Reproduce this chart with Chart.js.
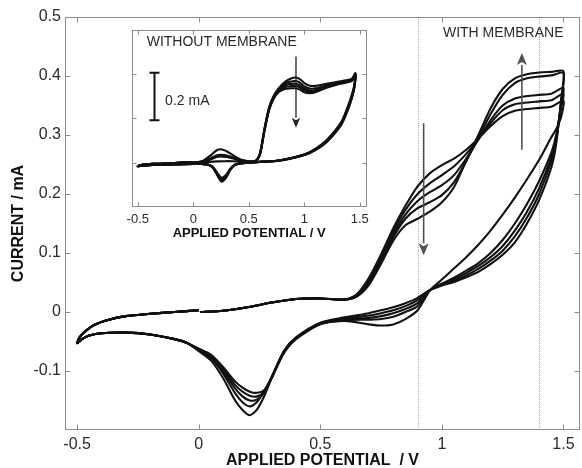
<!DOCTYPE html>
<html>
<head>
<meta charset="utf-8">
<title>Cyclic voltammograms with / without membrane</title>
<script src="https://cdn.jsdelivr.net/npm/chart.js@4.4.1/dist/chart.umd.min.js"></script>
<style>
    html, body { margin: 0; padding: 0; background: #fff; }
    #wrap { position: relative; width: 582px; height: 468px; }
    #main { position: absolute; left: 0; top: 0; }
    #inset { position: absolute; left: 120px; top: 28px; }
</style>
</head>
<body>
<div id="wrap">
    <canvas id="main" width="582" height="468"></canvas>
    <canvas id="inset" width="260" height="214"></canvas>
</div>
<script>
// ---- main panel (with membrane), potential in V, current in mA ----
const xTicks = [-0.5, 0, 0.5, 1, 1.5];
const yTicks = [-0.1, 0, 0.1, 0.2, 0.3, 0.4, 0.5];

// start of each forward sweep, same for all cycles
const fwdLowV = [0.005, 0.1, 0.2, 0.3, 0.4, 0.5, 0.6];
const fwdLowI = [0.0, 0.002, 0.008, 0.016, 0.022, 0.023, 0.021];

// oxidation wave, cycle 1..5
const riseV = [0.65, 0.7, 0.75, 0.8, 0.85, 0.9, 0.95, 1.0, 1.05, 1.1, 1.15, 1.2, 1.25, 1.3, 1.35, 1.4, 1.45, 1.5];
const riseC1 = [0.03, 0.058, 0.098, 0.142, 0.18, 0.213, 0.235, 0.249, 0.26, 0.275, 0.294, 0.315, 0.332, 0.341, 0.344, 0.346, 0.348, 0.358];
const riseC2 = [0.029, 0.055, 0.094, 0.137, 0.173, 0.2, 0.218, 0.232, 0.247, 0.268, 0.293, 0.32, 0.342, 0.352, 0.355, 0.357, 0.359, 0.37];
const riseC3 = [0.028, 0.052, 0.09, 0.132, 0.165, 0.188, 0.203, 0.215, 0.232, 0.26, 0.292, 0.325, 0.35, 0.362, 0.366, 0.368, 0.37, 0.38];
const riseC4 = [0.027, 0.049, 0.086, 0.127, 0.158, 0.176, 0.186, 0.198, 0.22, 0.256, 0.295, 0.335, 0.368, 0.388, 0.396, 0.399, 0.401, 0.405];
const riseC5 = [0.026, 0.046, 0.082, 0.121, 0.147, 0.158, 0.17, 0.186, 0.212, 0.256, 0.3, 0.345, 0.378, 0.396, 0.403, 0.406, 0.407, 0.408];

// reverse sweep down to 0 V, cycle 1..5
const revV = [1.49, 1.47, 1.45, 1.4, 1.35, 1.3, 1.25, 1.2, 1.15, 1.1, 1.05, 1.0, 0.95, 0.9, 0.85, 0.8, 0.75, 0.7, 0.6, 0.5, 0.4, 0.35, 0.3, 0.27, 0.24, 0.21, 0.18, 0.15, 0.1, 0.05, 0.0];
const revC1 = [0.33, 0.31, 0.296, 0.258, 0.225, 0.194, 0.165, 0.138, 0.114, 0.093, 0.074, 0.055, 0.036, 0.003, -0.012, -0.021, -0.023, -0.021, -0.015, -0.021, -0.046, -0.07, -0.112, -0.142, -0.165, -0.175, -0.166, -0.15, -0.112, -0.082, -0.066];
const revC2 = [0.345, 0.3, 0.27, 0.222, 0.183, 0.15, 0.122, 0.1, 0.083, 0.07, 0.058, 0.048, 0.037, 0.01, 0.0, -0.008, -0.012, -0.013, -0.014, -0.02, -0.045, -0.069, -0.112, -0.134, -0.152, -0.16, -0.153, -0.138, -0.104, -0.078, -0.065];
const revC3 = [0.35, 0.295, 0.262, 0.21, 0.17, 0.138, 0.112, 0.093, 0.078, 0.066, 0.055, 0.047, 0.037, 0.015, 0.005, -0.002, -0.007, -0.01, -0.013, -0.02, -0.044, -0.068, -0.111, -0.136, -0.148, -0.15, -0.143, -0.13, -0.1, -0.076, -0.064];
const revC4 = [0.355, 0.29, 0.255, 0.2, 0.16, 0.128, 0.104, 0.087, 0.073, 0.062, 0.053, 0.046, 0.037, 0.02, 0.01, 0.003, -0.002, -0.006, -0.011, -0.019, -0.044, -0.067, -0.11, -0.135, -0.143, -0.142, -0.135, -0.124, -0.096, -0.074, -0.063];
const revC5 = [0.36, 0.285, 0.245, 0.19, 0.15, 0.118, 0.097, 0.081, 0.068, 0.059, 0.051, 0.045, 0.037, 0.024, 0.015, 0.008, 0.003, -0.002, -0.009, -0.018, -0.043, -0.066, -0.11, -0.132, -0.137, -0.135, -0.128, -0.118, -0.093, -0.072, -0.062];

// negative end and the way back to 0 V, same for all cycles
const tailV = [-0.05, -0.1, -0.2, -0.3, -0.4, -0.45, -0.48, -0.5];
const tailI = [-0.052, -0.046, -0.038, -0.035, -0.036, -0.04, -0.046, -0.053];
const retV = [-0.49, -0.47, -0.43, -0.37, -0.3, -0.2, -0.1, 0.0];
const retI = [-0.043, -0.034, -0.022, -0.013, -0.007, -0.003, 0.0, 0.003];

// ---- inset (without membrane) ----
const insetXTicks = [-0.5, 0, 0.5, 1, 1.5];
const insetYTicks = [0, 0.2, 0.4];

const insFwdV = [0.005, 0.08, 0.15, 0.22, 0.28, 0.35, 0.42, 0.5, 0.56, 0.6, 0.64, 0.68, 0.72, 0.77, 0.83, 0.88, 0.92, 0.96, 1.0, 1.05, 1.1, 1.2, 1.3, 1.38, 1.43, 1.46];
const insFwdC1 = [0, 0.001, 0.003, 0.005, 0.006, 0.006, 0.005, 0.004, 0.006, 0.04, 0.15, 0.245, 0.298, 0.337, 0.366, 0.38, 0.385, 0.378, 0.36, 0.348, 0.347, 0.357, 0.366, 0.372, 0.38, 0.405];
const insFwdC2 = [0, 0.006, 0.03, 0.058, 0.056, 0.036, 0.015, 0.006, 0.007, 0.039, 0.148, 0.242, 0.295, 0.334, 0.358, 0.367, 0.369, 0.362, 0.345, 0.335, 0.336, 0.35, 0.362, 0.37, 0.378, 0.4];
const insFwdC3 = [0, 0.004, 0.018, 0.034, 0.034, 0.025, 0.012, 0.005, 0.006, 0.037, 0.145, 0.238, 0.291, 0.329, 0.35, 0.356, 0.357, 0.35, 0.335, 0.326, 0.328, 0.345, 0.358, 0.367, 0.375, 0.398];
const insFwdC4 = [0, 0.003, 0.015, 0.029, 0.029, 0.022, 0.011, 0.005, 0.006, 0.036, 0.142, 0.235, 0.288, 0.324, 0.342, 0.346, 0.347, 0.34, 0.327, 0.32, 0.323, 0.342, 0.356, 0.365, 0.373, 0.395];
const insFwdC5 = [0, 0.003, 0.013, 0.026, 0.026, 0.02, 0.01, 0.005, 0.006, 0.035, 0.14, 0.232, 0.285, 0.319, 0.334, 0.336, 0.336, 0.33, 0.318, 0.314, 0.318, 0.338, 0.353, 0.362, 0.37, 0.392];

const insRevV = [1.45, 1.43, 1.4, 1.34, 1.25, 1.16, 1.04, 0.9, 0.75, 0.6, 0.5, 0.42, 0.37, 0.33, 0.3, 0.27, 0.25, 0.22, 0.18, 0.14, 0.08, 0.0];
const insRevC1 = [0.35, 0.31, 0.265, 0.19, 0.128, 0.083, 0.045, 0.023, 0.008, 0.003, 0.0, -0.004, -0.013, -0.036, -0.065, -0.083, -0.085, -0.062, -0.026, -0.011, -0.007, -0.007];
const insRevC2 = [0.345, 0.305, 0.26, 0.186, 0.125, 0.081, 0.044, 0.022, 0.008, 0.003, 0.0, -0.004, -0.012, -0.034, -0.062, -0.078, -0.08, -0.058, -0.025, -0.011, -0.007, -0.007];
const insRevC3 = [0.342, 0.3, 0.256, 0.183, 0.122, 0.079, 0.043, 0.022, 0.008, 0.003, 0.0, -0.004, -0.012, -0.033, -0.059, -0.074, -0.076, -0.056, -0.024, -0.011, -0.007, -0.007];
const insRevC4 = [0.34, 0.297, 0.252, 0.18, 0.12, 0.077, 0.042, 0.021, 0.007, 0.003, 0.0, -0.004, -0.011, -0.031, -0.056, -0.07, -0.072, -0.053, -0.023, -0.01, -0.007, -0.007];
const insRevC5 = [0.337, 0.294, 0.248, 0.177, 0.118, 0.075, 0.041, 0.021, 0.007, 0.003, 0.0, -0.004, -0.011, -0.03, -0.053, -0.066, -0.068, -0.05, -0.022, -0.01, -0.007, -0.007];

const insTailV = [-0.2, -0.4, -0.48, -0.5];
const insTailI = [-0.009, -0.012, -0.015, -0.017];
const insRetV = [-0.46, -0.35, -0.2, 0.0];
const insRetI = [-0.01, -0.006, -0.003, 0.002];

const FONT = "'Liberation Sans', Arial, sans-serif";

function zip(xs, ys) {
    return xs.map((x, i) => ({ x, y: ys[i] }));
}

// glue the sweep segments of one cycle together
function sweep(segments) {
    return segments.flatMap(([xs, ys]) => zip(xs, ys));
}

function lineDataset(data) {
    return {
        data,
        showLine: true,
        borderColor: '#111',
        borderWidth: 2.1,
        pointRadius: 0,
        tension: 0.25,
        fill: false
    };
}

// box around the plot with inward ticks on all four sides
const framePlugin = {
    id: 'frame',
    afterDatasetsDraw(chart, args, opts) {
        const { ctx, chartArea: a, scales: { x, y } } = chart;
        const l = Math.round(a.left) + 0.5, r = Math.round(a.right) - 0.5;
        const t = Math.round(a.top) + 0.5, b = Math.round(a.bottom) - 0.5;
        ctx.save();
        ctx.strokeStyle = opts.color;
        ctx.lineWidth = 1;
        ctx.strokeRect(l, t, r - l, b - t);
        ctx.beginPath();
        for (const v of opts.xTicks) {
            const px = Math.round(x.getPixelForValue(v)) + 0.5;
            if (px <= l + 1 || px >= r - 1) continue;
            ctx.moveTo(px, b); ctx.lineTo(px, b - opts.tickLength);
            ctx.moveTo(px, t); ctx.lineTo(px, t + opts.tickLength);
        }
        for (const v of opts.yTicks) {
            const py = Math.round(y.getPixelForValue(v)) + 0.5;
            if (py <= t + 1 || py >= b - 1) continue;
            ctx.moveTo(l, py); ctx.lineTo(l + opts.tickLength, py);
            ctx.moveTo(r, py); ctx.lineTo(r - opts.tickLength, py);
        }
        ctx.stroke();
        ctx.restore();
    }
};

// dotted guides, arrows, scale bar and free labels
const notesPlugin = {
    id: 'notes',
    beforeDatasetsDraw(chart, args, opts) {
        if (!opts.guides) return;
        const { ctx, chartArea: a, scales: { x } } = chart;
        ctx.save();
        ctx.strokeStyle = '#b0b0b0';
        ctx.lineWidth = 1;
        ctx.setLineDash([1, 1]);
        for (const v of opts.guides) {
            const px = Math.round(x.getPixelForValue(v)) + 0.5;
            ctx.beginPath();
            ctx.moveTo(px, a.top);
            ctx.lineTo(px, a.bottom);
            ctx.stroke();
        }
        ctx.restore();
    },
    afterDatasetsDraw(chart, args, opts) {
        const { ctx, scales: { x, y } } = chart;
        ctx.save();
        for (const arrow of opts.arrows || []) {
            const px = x.getPixelForValue(arrow.x);
            const y0 = y.getPixelForValue(arrow.from);
            const y1 = y.getPixelForValue(arrow.to);
            const dir = y1 > y0 ? 1 : -1;
            ctx.strokeStyle = arrow.color;
            ctx.fillStyle = arrow.color;
            ctx.lineWidth = arrow.width;
            ctx.beginPath();
            ctx.moveTo(px, y0);
            ctx.lineTo(px, y1 - dir * arrow.head);
            ctx.stroke();
            ctx.beginPath();
            ctx.moveTo(px, y1);
            ctx.lineTo(px - arrow.head * 0.42, y1 - dir * arrow.head);
            ctx.lineTo(px, y1 - dir * arrow.head * 0.75);
            ctx.lineTo(px + arrow.head * 0.42, y1 - dir * arrow.head);
            ctx.closePath();
            ctx.fill();
        }
        if (opts.scaleBar) {
            const bar = opts.scaleBar;
            const px = Math.round(x.getPixelForValue(bar.x)) + 0.5;
            const y0 = y.getPixelForValue(bar.from);
            const y1 = y.getPixelForValue(bar.to);
            ctx.strokeStyle = '#111';
            ctx.lineWidth = 2;
            ctx.beginPath();
            ctx.moveTo(px, y0); ctx.lineTo(px, y1);
            ctx.moveTo(px - 5, y0); ctx.lineTo(px + 5, y0);
            ctx.moveTo(px - 5, y1); ctx.lineTo(px + 5, y1);
            ctx.stroke();
        }
        for (const label of opts.labels || []) {
            ctx.font = `${label.size}px ${FONT}`;
            ctx.fillStyle = '#2a2a2a';
            ctx.textAlign = label.align;
            ctx.textBaseline = 'middle';
            ctx.fillText(label.text, x.getPixelForValue(label.x), y.getPixelForValue(label.y));
        }
        ctx.restore();
    }
};

function linearAxis(min, max, ticks, fontSize, extra) {
    return Object.assign({
        type: 'linear',
        min,
        max,
        afterBuildTicks: scale => { scale.ticks = ticks.map(value => ({ value })); },
        grid: { display: false, drawTicks: false },
        border: { display: false },
        ticks: {
            color: '#2a2a2a',
            font: { family: FONT, size: fontSize },
            maxRotation: 0,
            autoSkip: false,
            callback: value => String(value)
        }
    }, extra);
}

const mainCycles = [
    [riseC1, revC1], [riseC2, revC2], [riseC3, revC3], [riseC4, revC4], [riseC5, revC5]
];
const insetCycles = [
    [insFwdC1, insRevC1], [insFwdC2, insRevC2], [insFwdC3, insRevC3], [insFwdC4, insRevC4], [insFwdC5, insRevC5]
];

const mainX = linearAxis(-0.55, 1.568, xTicks, 16, {
    afterFit: scale => { scale.height = 38; },
    title: {
        display: true,
        text: 'APPLIED POTENTIAL  / V',
        color: '#111',
        font: { family: FONT, size: 16, weight: 'bold', lineHeight: 0.9 },
        padding: { top: 0, bottom: 0 }
    }
});
mainX.ticks.padding = 5;

const mainY = linearAxis(-0.2, 0.5, yTicks, 16, {
    afterFit: scale => { scale.width = 65; },
    title: {
        display: true,
        text: 'CURRENT / mA',
        color: '#111',
        font: { family: FONT, size: 16, weight: 'bold', lineHeight: 0.9 },
        padding: { top: 11, bottom: 0 }
    }
});
mainY.ticks.padding = 4;

new Chart(document.getElementById('main'), {
    type: 'scatter',
    data: {
        datasets: mainCycles.map(([rise, rev]) => lineDataset(sweep([
            [fwdLowV, fwdLowI], [riseV, rise], [revV, rev], [tailV, tailI], [retV, retI]
        ])))
    },
    options: {
        responsive: false,
        animation: false,
        layout: { padding: { top: 17, right: 2, left: 0, bottom: 0 } },
        plugins: {
            legend: { display: false },
            tooltip: { enabled: false },
            frame: { color: '#8c8c8c', tickLength: 5, xTicks, yTicks },
            notes: {
                guides: [0.9, 1.4],
                arrows: [
                    { x: 0.925, from: 0.32, to: 0.096, color: '#505050', width: 1.6, head: 12 },
                    { x: 1.329, from: 0.275, to: 0.439, color: '#505050', width: 1.6, head: 12 }
                ],
                labels: [
                    { text: 'WITH MEMBRANE', x: 1.5, y: 0.472, align: 'right', size: 14 }
                ]
            }
        },
        scales: { x: mainX, y: mainY }
    },
    plugins: [notesPlugin, framePlugin]
});

const insetX = linearAxis(-0.555, 1.562, insetXTicks, 13, {
    afterFit: scale => { scale.height = 35.3; },
    title: {
        display: true,
        text: 'APPLIED POTENTIAL / V',
        color: '#111',
        font: { family: FONT, size: 13, weight: 'bold' },
        padding: { top: 0, bottom: 1 }
    }
});
insetX.ticks.padding = 5;

new Chart(document.getElementById('inset'), {
    type: 'scatter',
    data: {
        datasets: insetCycles.map(([fwd, rev]) => lineDataset(sweep([
            [insFwdV, fwd], [insRevV, rev], [insTailV, insTailI], [insRetV, insRetI]
        ])))
    },
    options: {
        responsive: false,
        animation: false,
        layout: { padding: { top: 2, right: 13.3, left: 11.7, bottom: 0 } },
        plugins: {
            legend: { display: false },
            tooltip: { enabled: false },
            frame: { color: '#8c8c8c', tickLength: 4, xTicks: insetXTicks, yTicks: insetYTicks },
            notes: {
                arrows: [
                    { x: 0.925, from: 0.48, to: 0.158, color: '#222', width: 1.3, head: 10 }
                ],
                scaleBar: { x: -0.354, from: 0.191, to: 0.407 },
                labels: [
                    { text: 'WITHOUT MEMBRANE', x: -0.42, y: 0.547, align: 'left', size: 14 },
                    { text: '0.2 mA', x: -0.254, y: 0.276, align: 'left', size: 14 }
                ]
            }
        },
        scales: {
            x: insetX,
            y: { type: 'linear', min: -0.2, max: 0.6, display: false }
        }
    },
    plugins: [notesPlugin, framePlugin]
});
</script>
</body>
</html>
